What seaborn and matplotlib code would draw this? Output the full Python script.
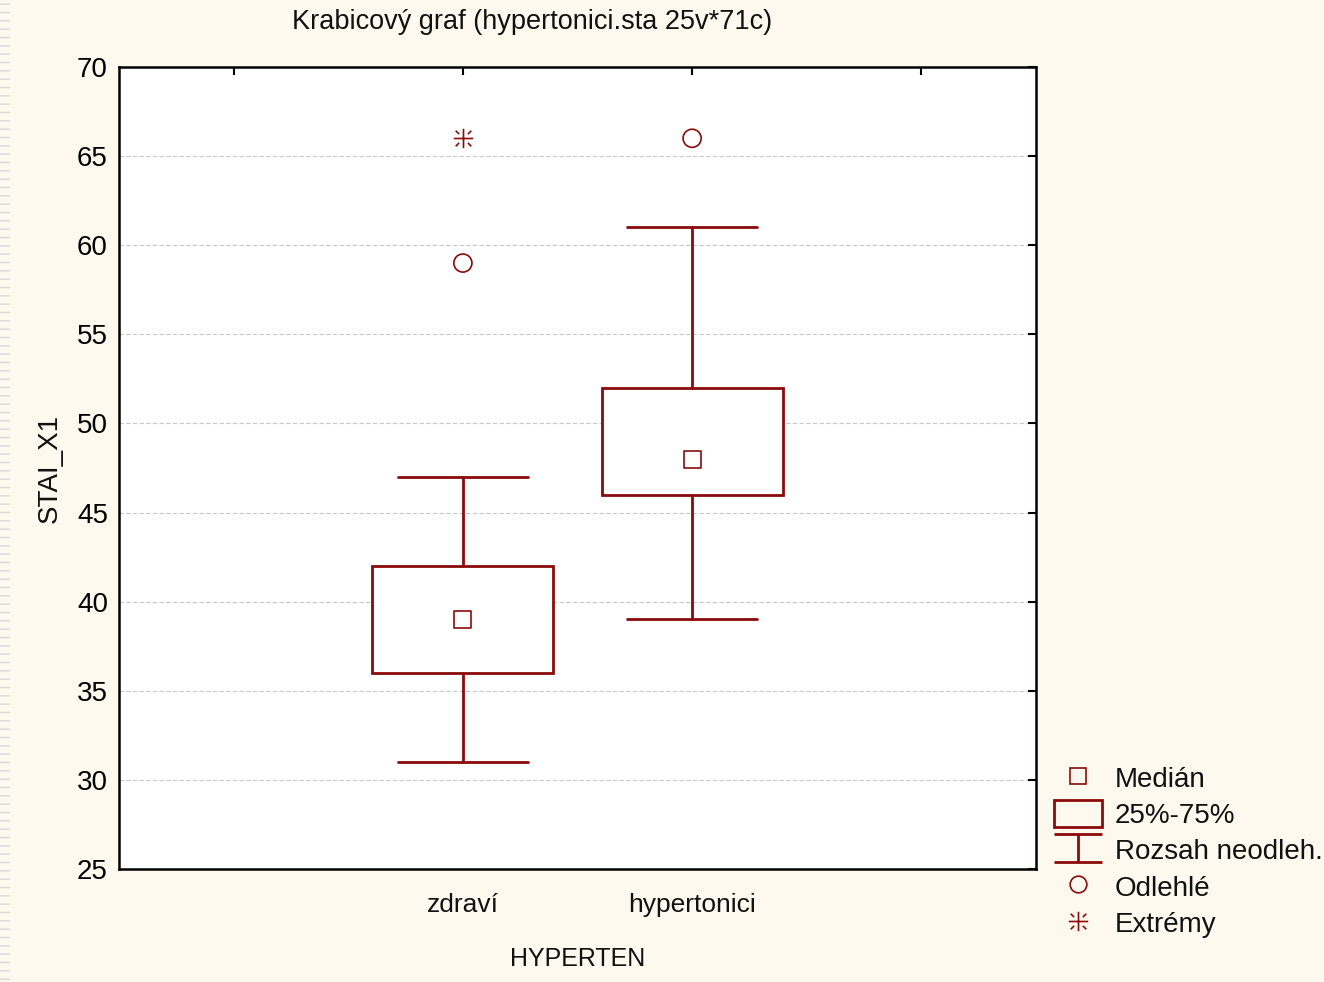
import numpy as np
import pandas as pd
import seaborn as sns
import matplotlib as mpl
from matplotlib import pyplot as plt
from matplotlib.path import Path
from matplotlib.lines import Line2D
from matplotlib.patches import Rectangle

sns.set_theme(style="white")
plt.rcParams['font.family'] = ['Liberation Sans', 'DejaVu Sans']

# data
groups = ['zdraví', 'hypertonici']
medians = [39, 48]
q1 = [36, 46]
q3 = [42, 52]
whisk_lo = [31, 39]
whisk_hi = [47, 61]
outliers = [[59], [66]]
extremes = [[66], []]

dark_red = '#8b0a0a'
bg = '#fef9ee'

fig = plt.figure(figsize=(13.24, 9.82), dpi=100, facecolor=bg)
ax = fig.add_axes([119 / 1324, 1 - 869 / 982, (1036 - 119) / 1324, (869 - 67) / 982])
ax.set_facecolor('white')

pos = [1, 2]
stats = []
for i, g in enumerate(groups):
    stats.append({'label': g, 'med': medians[i], 'q1': q1[i], 'q3': q3[i],
                  'whislo': whisk_lo[i], 'whishi': whisk_hi[i], 'fliers': []})

ax.bxp(stats, positions=pos, widths=0.79, showfliers=False, patch_artist=True,
       boxprops=dict(facecolor='white', edgecolor=dark_red, linewidth=2),
       whiskerprops=dict(color=dark_red, linewidth=2),
       capprops=dict(color=dark_red, linewidth=2),
       medianprops=dict(linewidth=0), capwidths=0.565, zorder=3)

med_df = pd.DataFrame({'x': pos, 'y': medians})
sns.scatterplot(data=med_df, x='x', y='y', marker='s', s=150, facecolor='none',
                edgecolor=dark_red, linewidth=1.2, ax=ax, zorder=4)

out_x, out_y, ext_x, ext_y = [], [], [], []
for i in range(len(groups)):
    out_x += [pos[i]] * len(outliers[i])
    out_y += outliers[i]
    ext_x += [pos[i]] * len(extremes[i])
    ext_y += extremes[i]
sns.scatterplot(x=out_x, y=out_y, marker='o', s=170, facecolor='none',
                edgecolor=dark_red, linewidth=1.2, ax=ax, zorder=4)

# asterisk-like marker for extremes
star = Path([(-1, 0), (1, 0), (0, -1), (0, 1), (-0.8, -0.8), (-0.45, -0.45),
             (0.45, 0.45), (0.8, 0.8), (-0.8, 0.8), (-0.45, 0.45), (0.45, -0.45), (0.8, -0.8)],
            [Path.MOVETO, Path.LINETO] * 6)
ax.plot(ext_x, ext_y, linestyle='none', marker=star, markersize=14,
        markeredgecolor=dark_red, markeredgewidth=1.2, zorder=4)

ax.set_xlim(-0.5, 3.5)
ax.set_ylim(25, 70)
ax.set_xticks([0, 1, 2, 3])
ax.set_xticklabels(['', groups[0], groups[1], ''])
ax.set_yticks(np.arange(25, 71, 5))
ax.tick_params(axis='both', direction='in', length=6, width=1.5, colors='black',
               top=True, right=True, labelsize=20, pad=8)
ax.tick_params(axis='x', labelsize=19, pad=17)
for lab in ax.get_xticklabels():
    lab.set_color('#111111')

ax.yaxis.grid(True, linestyle=(0, (4, 2)), color='#c8c8c8', linewidth=0.8)
ax.set_axisbelow(True)
for s in ax.spines.values():
    s.set_visible(True)
    s.set_color('black')
    s.set_linewidth(1.8)

ax.set_xlabel('HYPERTEN', fontsize=18, labelpad=22, color='#111111')
ax.set_ylabel('STAI_X1', fontsize=20, labelpad=10, color='#111111')
fig.text(532 / 1324, 1 - 22 / 982, 'Krabicový graf (hypertonici.sta 25v*71c)',
         ha='center', va='center', fontsize=19.5, color='#111111')

# legend
ibeam = Path([(-1, 0.6), (1, 0.6), (0, 0.6), (0, -0.6), (-1, -0.6), (1, -0.6)],
             [Path.MOVETO, Path.LINETO, Path.MOVETO, Path.LINETO, Path.MOVETO, Path.LINETO])
handles = [
    Line2D([], [], linestyle='none', marker='s', markersize=11, markerfacecolor='none',
           markeredgecolor=dark_red, markeredgewidth=1.2),
    Rectangle((0, 0), 1, 1, facecolor='none', edgecolor=dark_red, linewidth=2),
    Line2D([], [], linestyle='none', marker=ibeam, markersize=34.5, markerfacecolor='none',
           markeredgecolor=dark_red, markeredgewidth=2),
    Line2D([], [], linestyle='none', marker='o', markersize=12, markerfacecolor='none',
           markeredgecolor=dark_red, markeredgewidth=1.2),
    Line2D([], [], linestyle='none', marker=star, markersize=14, markerfacecolor='none',
           markeredgecolor=dark_red, markeredgewidth=1.2),
]
labels = ['Medián', '25%-75%', 'Rozsah neodleh.', 'Odlehlé', 'Extrémy']
leg = fig.legend(handles, labels, loc='lower left', bbox_to_anchor=(1054 / 1324, 1 - 938 / 982),
                 frameon=False, fontsize=20, handlelength=1.73, handleheight=1.1,
                 handletextpad=0.47, labelspacing=0.27, borderaxespad=0, borderpad=0)
for t in leg.get_texts():
    t.set_color('#111111')

# striped left edge
fig.patches.append(Rectangle((0, 0), 10 / 1324, 1, transform=fig.transFigure,
                             facecolor='none', edgecolor='#d8d8d8', hatch='--', linewidth=0))

fig.savefig('out.png', dpi=100, facecolor=bg)
